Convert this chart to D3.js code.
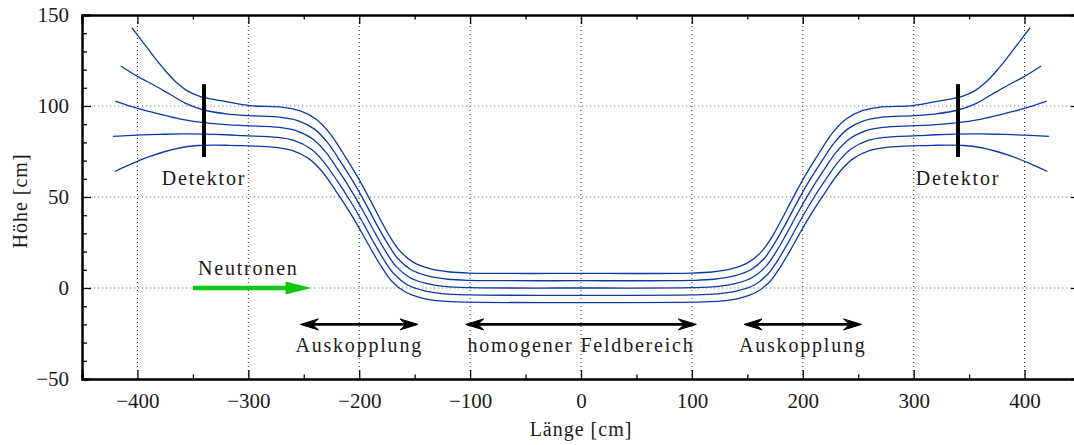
<!DOCTYPE html>
<html><head><meta charset="utf-8">
<script src="https://cdn.jsdelivr.net/npm/d3@7"></script>
<style>
body{margin:0;background:#fff;}
svg text{font-family:"Liberation Serif","DejaVu Serif",serif;fill:#1a1a1a;}
</style></head>
<body><svg id="c" width="1074" height="445"></svg>
<script>
// ---- data ----
const xMajorTicks = [-400,-300,-200,-100,0,100,200,300,400];
const xMinorTicks = [-450,-350,-250,-150,-50,50,150,250,350,450];
const yMajorTicks = [-50,0,50,100,150];
const yMinorTicks = [-40,-30,-20,-10,10,20,30,40,60,70,80,90,110,120,130,140];
const xGrid = [-400,-300,-200,-100,0,100,200,300,400];
const yGrid = [0,50,100];

const line1 = [[-405,143],[-395,135],[-385,127],[-375,119.5],[-365,113],[-355,108.3],[-345,105.6],[-335,104],[-320,102.4],
 [-298.7,100.2],[-268.7,99.3],[-253.6,97.4],[-238.5,92.6],[-226.5,85.0],[-214.5,74.0],[-202.4,62.0],[-191.6,50.1],[-181.4,38.2],[-172.4,28.2],[-163.4,20.4],[-151.4,14.2],[-136.3,10.6],[-118.2,8.8],
 [-100,8.2],[0,8],[100,8.2],
 [118.2,8.8],[136.3,10.6],[151.4,14.2],[163.4,20.4],[172.4,28.2],[181.4,38.2],[191.6,50.1],[202.4,62.0],[214.5,74.0],[226.5,85.0],[238.5,92.6],[253.6,97.4],[268.7,99.3],[298.7,100.2],
 [320,102.4],[335,104],[345,105.6],[355,108.3],[365,113],[375,119.5],[385,127],[395,135],[405,143]];
const line2 = [[-415,122],[-400,116.3],[-385,111.4],[-370,106.2],[-355,101],[-340,97.8],[-320,95.7],
 [-300.5,94.7],[-270.5,93.8],[-255.4,92.0],[-240.3,87.3],[-228.3,79.7],[-216.3,68.9],[-204.2,57.2],[-193.4,45.4],[-183.2,33.7],[-174.2,24.2],[-165.2,16.2],[-153.2,10.0],[-138.1,6.6],[-120,4.8],
 [-100,4.2],[0,4],[100,4.2],
 [120,4.8],[138.1,6.6],[153.2,10.0],[165.2,16.2],[174.2,24.2],[183.2,33.7],[193.4,45.4],[204.2,57.2],[216.3,68.9],[228.3,79.7],[240.3,87.3],[255.4,92.0],[270.5,93.8],[300.5,94.7],
 [320,95.7],[340,97.8],[355,101],[370,106.2],[385,111.4],[400,116.3],[415,122]];
const line3 = [[-420,102.7],[-405,99.6],[-390,97],[-375,94.8],[-360,92.7],[-340,90.9],[-320,89.8],
 [-302.2,89.2],[-272.2,88.3],[-257.1,86.5],[-242,81.9],[-230,74.5],[-218,63.9],[-205.9,52.3],[-195.1,40.8],[-184.9,29.3],[-175.9,19.8],[-166.9,12.0],[-154.9,5.9],[-139.8,2.5],[-121.7,0.8],
 [-100,0.2],[0,0],[100,0.2],
 [121.7,0.8],[139.8,2.5],[154.9,5.9],[166.9,12.0],[175.9,19.8],[184.9,29.3],[195.1,40.8],[205.9,52.3],[218,63.9],[230,74.5],[242,81.9],[257.1,86.5],[272.2,88.3],[302.2,89.2],
 [320,89.8],[340,90.9],[360,92.7],[375,94.8],[390,97],[405,99.6],[420,102.7]];
const line4 = [[-422,83.3],[-400,84],[-380,84.4],[-360,84.7],[-340,84.6],[-320,84.2],
 [-303.9,83.7],[-273.9,82.8],[-258.9,81.1],[-243.8,76.5],[-231.8,69.2],[-219.8,58.8],[-207.7,47.4],[-196.9,36.1],[-186.7,24.8],[-177.7,15.5],[-168.7,7.8],[-156.7,1.8],[-141.6,-1.5],[-123.5,-3.2],
 [-100,-3.8],[0,-4],[100,-3.8],
 [123.5,-3.2],[141.6,-1.5],[156.7,1.8],[168.7,7.8],[177.7,15.5],[186.7,24.8],[196.9,36.1],[207.7,47.4],[219.8,58.8],[231.8,69.2],[243.8,76.5],[258.9,81.1],[273.9,82.8],[303.9,83.7],
 [320,84.2],[340,84.6],[360,84.7],[380,84.4],[400,84],[422,83.3]];
const line5 = [[-420.6,64],[-405,68.3],[-390,72],[-375,75],[-360,77.2],[-345,78.3],[-330,78.5],[-318,78.4],
 [-305.7,78.2],[-275.7,77.3],[-260.6,75.6],[-245.5,71.1],[-233.5,64.0],[-221.5,53.7],[-209.4,42.5],[-198.6,31.4],[-188.4,20.3],[-179.4,11.2],[-170.4,3.6],[-158.4,-2.2],[-143.3,-5.5],[-125.2,-7.2],
 [-100,-7.8],[0,-8],[100,-7.8],
 [125.2,-7.2],[143.3,-5.5],[158.4,-2.2],[170.4,3.6],[179.4,11.2],[188.4,20.3],[198.6,31.4],[209.4,42.5],[221.5,53.7],[233.5,64.0],[245.5,71.1],[260.6,75.6],[275.7,77.3],[305.7,78.2],
 [318,78.4],[330,78.5],[345,78.3],[360,77.2],[375,75],[390,72],[405,68.3],[420.6,64]];
const fieldLines = [line1,line2,line3,line4,line5];

const detectors = [[-340,72,112],[340,72,112]];           // x, y0, y1
const neutronArrow = [-350,-243,0];                        // x0, x1, y
const doubleArrows = [[-253,-147,-20],[-104,104,-20],[147,253,-20]];
const labels = [
  {t:"Detektor", x:-340, y:56.5},
  {t:"Detektor", x:340, y:56.5},
  {t:"Neutronen", x:-300, y:7},
  {t:"Auskopplung", x:-200, y:-35},
  {t:"homogener Feldbereich", x:0, y:-35},
  {t:"Auskopplung", x:200, y:-35}
];

// ---- drawing ----
const svg = d3.select("#c");
const X = d3.scaleLinear().domain([-450,450]).range([82,1080]);
const Y = d3.scaleLinear().domain([-50,150]).range([379,15]);

// grid
svg.append("g").selectAll("line").data(xGrid).join("line")
  .attr("x1",d=>X(d)).attr("x2",d=>X(d)).attr("y1",Y(-50)).attr("y2",Y(150))
  .attr("stroke","#333").attr("stroke-width",1).attr("stroke-dasharray","1,3");
svg.append("g").selectAll("line").data(yGrid).join("line")
  .attr("x1",X(-450)).attr("x2",X(450)).attr("y1",d=>Y(d)).attr("y2",d=>Y(d))
  .attr("stroke","#777").attr("stroke-width",1).attr("stroke-dasharray","1.2,2.8");

// field lines
const lg = d3.line().x(d=>X(d[0])).y(d=>Y(d[1])).curve(d3.curveCatmullRom.alpha(0.5));
svg.append("g").selectAll("path").data(fieldLines).join("path")
  .attr("d",lg).attr("fill","none").attr("stroke","#0a3aa8").attr("stroke-width",1.3);

// detectors
svg.append("g").selectAll("line").data(detectors).join("line")
  .attr("x1",d=>X(d[0])).attr("x2",d=>X(d[0])).attr("y1",d=>Y(d[1])).attr("y2",d=>Y(d[2]))
  .attr("stroke","#000").attr("stroke-width",4);

// neutron arrow
{
  const [a,b,yy]=neutronArrow, x0=X(a), x1=X(b), y0=Y(yy);
  svg.append("line").attr("x1",x0).attr("x2",x1-20).attr("y1",y0).attr("y2",y0)
    .attr("stroke","#11c811").attr("stroke-width",4.5);
  svg.append("path").attr("d",`M${x1},${y0}L${x1-26},${y0-6.5}L${x1-26},${y0+6.5}Z`).attr("fill","#11c811");
}
// double arrows
function head(x,y,dir){ // dir +1 points right
  const L=18,h=5.5,n=12;
  return `M${x},${y}L${x-dir*L},${y-h}L${x-dir*n},${y}L${x-dir*L},${y+h}Z`;
}
const da = svg.append("g");
doubleArrows.forEach(([a,b,yy])=>{
  const x0=X(a),x1=X(b),y0=Y(yy);
  da.append("line").attr("x1",x0+4).attr("x2",x1-4).attr("y1",y0).attr("y2",y0)
    .attr("stroke","#000").attr("stroke-width",2.6);
  da.append("path").attr("d",head(x1,y0,1)).attr("fill","#000").attr("stroke","#000").attr("stroke-width",1).attr("stroke-linejoin","miter");
  da.append("path").attr("d",head(x0,y0,-1)).attr("fill","#000").attr("stroke","#000").attr("stroke-width",1).attr("stroke-linejoin","miter");
});

// labels
svg.append("g").selectAll("text").data(labels).join("text")
  .attr("x",d=>X(d.x)).attr("y",d=>Y(d.y)).attr("text-anchor","middle")
  .style("font-size","20px").style("letter-spacing","1.8px").text(d=>d.t);

// frame & ticks via d3 axes
const fmt = d => (d<0?"\u2212":"")+Math.abs(d);
svg.append("g").attr("transform",`translate(0,${Y(-50)})`)
  .call(d3.axisBottom(X).tickValues(xMajorTicks).tickSize(-9).tickPadding(14).tickFormat(fmt));
svg.append("g").attr("transform",`translate(0,${Y(-50)})`)
  .call(d3.axisBottom(X).tickValues(xMinorTicks).tickSize(-4.5).tickFormat(""));
svg.append("g").attr("transform",`translate(0,${Y(150)})`)
  .call(d3.axisTop(X).tickValues(xMajorTicks).tickSize(-9).tickFormat(""));
svg.append("g").attr("transform",`translate(0,${Y(150)})`)
  .call(d3.axisTop(X).tickValues(xMinorTicks).tickSize(-4.5).tickFormat(""));
svg.append("g").attr("transform",`translate(${X(-450)},0)`)
  .call(d3.axisLeft(Y).tickValues(yMajorTicks).tickSize(-9).tickPadding(13).tickFormat(fmt));
svg.append("g").attr("transform",`translate(${X(-450)},0)`)
  .call(d3.axisLeft(Y).tickValues(yMinorTicks).tickSize(-5).tickFormat(""));
svg.append("g").attr("transform",`translate(${X(450)},0)`)
  .call(d3.axisRight(Y).tickValues(yMajorTicks).tickSize(-9).tickFormat(""));
svg.append("g").attr("transform",`translate(${X(450)},0)`)
  .call(d3.axisRight(Y).tickValues(yMinorTicks).tickSize(-5).tickFormat(""));
svg.selectAll(".domain").attr("stroke","#000").attr("stroke-width",2);
svg.selectAll(".tick line").attr("stroke","#000").attr("stroke-width",1.3);
svg.selectAll(".tick text").style("font-family",'"Liberation Serif","DejaVu Serif",serif')
  .style("font-size","21px").attr("fill","#1a1a1a");

// axis titles
svg.append("text").attr("x",X(0)).attr("y",436).attr("text-anchor","middle")
  .style("font-size","20px").style("letter-spacing","1px").text("Länge [cm]");
svg.append("text").attr("transform",`translate(27,${Y(50)+4}) rotate(-90)`).attr("text-anchor","middle")
  .style("font-size","20px").style("letter-spacing","1px").text("Höhe [cm]");
</script></body></html>
